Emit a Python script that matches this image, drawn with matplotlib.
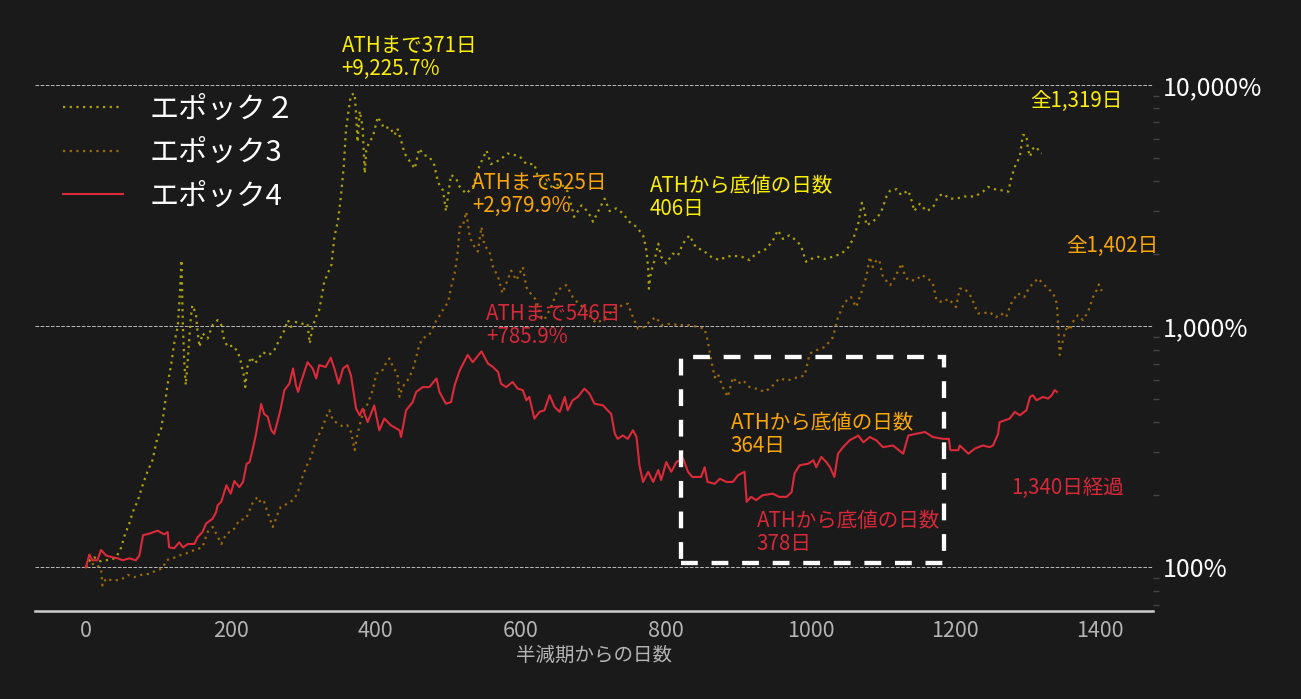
import matplotlib
matplotlib.use("Agg")
import matplotlib.pyplot as plt
from matplotlib.patches import Rectangle
from matplotlib.ticker import FixedLocator, FuncFormatter, NullFormatter, LogLocator

plt.rcParams['font.family'] = ['Noto Sans CJK JP', 'DejaVu Sans']

# エポック2 (days since halving, % of halving-day price)
e2_days = [0, 7, 12, 20, 28, 36, 42, 49, 53, 60, 65, 72, 79, 85, 92, 99, 104, 108, 113, 118,
           122, 127, 130, 132, 134, 136, 138, 141, 145, 147, 152, 154, 157, 161, 168, 175, 182, 187, 191, 196,
           203, 210, 214, 219, 220, 223, 228, 233, 237, 244, 253, 260, 267, 274, 279, 283, 290, 299, 306, 309,
           313, 318, 322, 325, 329, 334, 339, 343, 348, 352, 356, 359, 364, 366, 371, 373, 375, 378, 382, 385,
           387, 391, 396, 403, 408, 412, 419, 426, 430, 435, 440, 446, 454, 460, 467, 474, 481, 486, 493, 497,
           500, 504, 511, 516, 525, 534, 543, 553, 559, 571, 582, 592, 599, 608, 619, 624, 633, 644, 656, 665,
           674, 684, 693, 700, 709, 716, 723, 732, 741, 750, 760, 769, 773, 776, 777, 780, 785, 790, 794, 801,
           810, 817, 824, 833, 842, 852, 863, 874, 884, 893, 905, 916, 925, 939, 948, 955, 962, 971, 981, 987,
           994, 1001, 1010, 1020, 1031, 1043, 1052, 1059, 1066, 1071, 1075, 1077, 1086, 1093, 1098, 1105, 1110, 1119, 1125, 1135,
           1141, 1143, 1151, 1160, 1169, 1176, 1183, 1192, 1201, 1213, 1227, 1238, 1245, 1254, 1266, 1273, 1277, 1282, 1289, 1293,
           1298, 1300, 1303, 1307, 1312, 1316, 1319]
e2_pct = [100, 109, 110, 106, 107, 108, 110, 121, 134, 152, 170, 190, 222, 249, 278, 347, 376, 448, 577, 700,
          848, 1000, 1400, 1880, 1000, 700, 570, 745, 1090, 1220, 1128, 960, 820, 935, 888, 1010, 1060, 1010, 876, 820,
          832, 780, 709, 607, 559, 677, 745, 700, 722, 780, 760, 794, 876, 960, 1060, 993, 1041, 1023, 1023, 848,
          993, 1100, 1164, 1300, 1525, 1654, 1800, 2340, 2745, 3437, 4600, 6500, 8400, 9100, 9225.7, 7600, 5800, 7800, 6700, 4300,
          5350, 5800, 6080, 7380, 6930, 6600, 6700, 6200, 6600, 5900, 5200, 4880, 4500, 5450, 5120, 5050, 4650, 3950, 3650, 3000,
          3500, 4240, 4100, 3780, 3540, 3780, 4600, 5350, 4700, 4880, 5200, 5120, 5050, 4700, 4700, 4150, 3900, 3780, 3900, 3610,
          2840, 3170, 2980, 2710, 3080, 3380, 3000, 3080, 2940, 2710, 2580, 2380, 2120, 1760, 1430, 1680, 1880, 2200, 1940, 1820,
          2000, 1960, 2200, 2380, 2120, 2060, 1940, 1880, 1940, 1960, 1940, 1880, 2000, 2090, 2260, 2500, 2300, 2380, 2260, 2150,
          1850, 1900, 1940, 1900, 1940, 2000, 2120, 2300, 2670, 3250, 3000, 2620, 2710, 2840, 3000, 3450, 3650, 3700, 3500, 3650,
          3220, 3000, 3220, 3000, 3100, 3450, 3540, 3380, 3380, 3450, 3450, 3610, 3780, 3700, 3650, 3610, 4100, 4580, 5050, 6200,
          6200, 5450, 5050, 5450, 5550, 5250, 5200]

# エポック3
e3_days = [0, 12, 21, 23, 28, 37, 49, 58, 67, 76, 88, 97, 106, 111, 120, 129, 138, 150, 161, 168,
           175, 180, 187, 194, 203, 212, 221, 230, 237, 242, 246, 253, 258, 265, 269, 279, 286, 292, 299, 306,
           311, 316, 320, 325, 332, 336, 341, 348, 355, 361, 366, 371, 375, 382, 389, 396, 401, 408, 414, 419,
           424, 430, 433, 437, 444, 451, 456, 460, 465, 474, 484, 490, 495, 500, 504, 509, 513, 516, 520, 525,
           530, 534, 539, 541, 546, 550, 557, 562, 569, 575, 580, 587, 594, 603, 608, 615, 622, 626, 631, 635,
           642, 651, 663, 672, 679, 686, 695, 704, 713, 723, 732, 741, 748, 755, 762, 771, 780, 787, 794, 806,
           819, 833, 845, 854, 858, 863, 868, 872, 879, 886, 893, 900, 907, 916, 925, 937, 946, 957, 969, 981,
           992, 999, 1008, 1020, 1031, 1038, 1047, 1056, 1063, 1070, 1077, 1082, 1086, 1091, 1095, 1100, 1110, 1116, 1126, 1130,
           1135, 1146, 1153, 1162, 1169, 1174, 1183, 1190, 1197, 1201, 1206, 1213, 1222, 1231, 1238, 1247, 1256, 1263, 1270, 1277,
           1286, 1295, 1302, 1309, 1314, 1321, 1328, 1335, 1340, 1342, 1343, 1344, 1346, 1351, 1355, 1358, 1362, 1369, 1376, 1383,
           1390, 1395, 1398, 1402]
e3_pct = [100, 104, 99, 84, 90, 88, 89, 93, 91, 93, 94, 97, 99, 107, 109, 112, 114, 118, 121, 140,
          147, 138, 125, 138, 142, 157, 159, 184, 196, 184, 187, 162, 147, 167, 178, 184, 190, 202, 237, 269,
          287, 326, 347, 370, 421, 448, 407, 395, 383, 388, 364, 306, 358, 433, 477, 543, 636, 645, 700, 735,
          677, 636, 509, 559, 596, 656, 745, 833, 890, 920, 1060, 1128, 1200, 1255, 1450, 1650, 2000, 2580, 2580, 2979.9,
          2340, 2200, 2070, 2040, 2580, 2160, 2040, 1760, 1600, 1370, 1500, 1700, 1550, 1760, 1450, 1350, 1280, 1130, 1060, 1090,
          1200, 1410, 1480, 1320, 1250, 1200, 1110, 1030, 1060, 1130, 1200, 1220, 1240, 1090, 976, 993, 1060, 1090, 1010, 1023,
          1010, 1010, 993, 976, 876, 722, 613, 636, 559, 509, 613, 577, 596, 559, 551, 534, 559, 607, 596, 613,
          624, 770, 794, 820, 900, 1090, 1255, 1320, 1200, 1370, 1600, 1940, 1760, 1880, 1880, 1600, 1480, 1580, 1820, 1630,
          1550, 1550, 1630, 1580, 1500, 1280, 1255, 1300, 1240, 1200, 1430, 1430, 1320, 1130, 1130, 1145, 1090, 1130, 1090, 1240,
          1370, 1320, 1450, 1520, 1580, 1500, 1430, 1370, 1240, 1000, 840, 760, 820, 935, 1010, 960, 1040, 1110, 1060, 1145,
          1320, 1410, 1490, 1400]

# エポック4
e4_days = [0, 5, 9, 16, 21, 28, 37, 44, 51, 60, 69, 74, 79, 88, 99, 108, 113, 115, 122, 129,
           134, 141, 150, 154, 161, 166, 175, 180, 182, 187, 194, 200, 205, 212, 217, 222, 226, 231, 235, 242,
           246, 251, 256, 260, 265, 269, 274, 281, 286, 290, 293, 297, 306, 313, 318, 322, 331, 338, 343, 349,
           355, 361, 366, 373, 378, 382, 389, 398, 405, 412, 421, 433, 435, 442, 451, 456, 465, 474, 484, 488,
           497, 504, 509, 516, 527, 534, 546, 555, 562, 569, 573, 580, 589, 596, 603, 608, 612, 619, 626, 633,
           640, 647, 654, 661, 665, 672, 679, 688, 695, 702, 714, 720, 725, 730, 734, 741, 748, 755, 760, 764,
           769, 776, 783, 790, 794, 801, 808, 815, 824, 831, 837, 849, 854, 858, 868, 875, 884, 893, 900, 909,
           912, 918, 925, 934, 948, 957, 967, 974, 978, 985, 997, 1004, 1008, 1015, 1022, 1027, 1033, 1038, 1045, 1054,
           1066, 1073, 1082, 1091, 1100, 1114, 1128, 1135, 1146, 1158, 1169, 1183, 1191, 1193, 1204, 1206, 1218, 1227, 1238, 1247,
           1252, 1259, 1261, 1275, 1282, 1289, 1298, 1303, 1307, 1312, 1321, 1328, 1333, 1337, 1340]
e4_pct = [100, 113, 107, 107, 118, 112, 110, 109, 107, 109, 107, 112, 136, 138, 142, 137, 140, 121, 120, 127,
          121, 125, 125, 133, 140, 152, 159, 170, 181, 187, 219, 202, 228, 215, 226, 269, 273, 315, 358, 476,
          433, 421, 370, 358, 407, 455, 543, 578, 668, 569, 534, 587, 709, 668, 607, 689, 677, 740, 668, 577,
          668, 689, 624, 455, 427, 455, 400, 469, 370, 414, 388, 370, 347, 448, 484, 534, 559, 559, 607, 534,
          477, 484, 569, 656, 760, 709, 785.9, 700, 677, 645, 577, 559, 587, 551, 543, 493, 509, 414, 441, 448,
          517, 462, 441, 509, 448, 493, 509, 551, 525, 477, 469, 448, 433, 358, 341, 352, 341, 370, 347, 265,
          226, 249, 226, 253, 230, 273, 249, 273, 284, 249, 237, 237, 260, 226, 222, 233, 226, 226, 241, 249,
          187, 196, 190, 199, 202, 196, 196, 205, 245, 265, 269, 278, 260, 287, 273, 260, 237, 296, 315, 336,
          352, 330, 347, 336, 315, 320, 296, 352, 358, 364, 347, 341, 341, 306, 306, 320, 296, 311, 320, 315,
          320, 358, 400, 414, 441, 427, 448, 509, 517, 493, 509, 501, 517, 543, 534]

x_ticks = [0, 200, 400, 600, 800, 1000, 1200, 1400]
y_ticks = [100, 1000, 10000]

# highlighted bear-market window (days, %)
box_days = (822, 1184)
box_pct = (104.6, 746)

bg = '#1a1a1a'
c_e2 = '#aaa200'
c_e3 = '#9a6a08'
c_e4 = '#dc2a3a'
t_yellow = '#fff000'
t_orange = '#ffa600'
t_red = '#d6293a'

fig = plt.figure(figsize=(13.01, 6.99), dpi=100, facecolor=bg)
ax = fig.add_axes([0.0269, 0.1252, 0.8590, 0.7781], facecolor=bg)

ax.plot(e2_days, e2_pct, color=c_e2, lw=1.6, ls=(0, (1, 2)), label='エポック２')
ax.plot(e3_days, e3_pct, color=c_e3, lw=1.6, ls=(0, (1, 2)), label='エポック3')
ax.plot(e4_days, e4_pct, color=c_e4, lw=1.5, label='エポック4')

ax.set_yscale('log')
ax.set_xlim(-70.1, 1472.1)
ax.set_ylim(65.6, 11810)

# axes styling
for s in ['left', 'top', 'right']:
    ax.spines[s].set_visible(False)
ax.spines['bottom'].set_color('#cccccc')
ax.spines['bottom'].set_linewidth(1.8)

ax.set_xticks(x_ticks)
ax.tick_params(axis='x', length=0, pad=6, labelsize=15.5, labelcolor='#b4b4b4')
ax.set_xlabel('半減期からの日数', fontsize=14, color='#b4b4b4', labelpad=2)

ax.yaxis.tick_right()
ax.yaxis.set_major_locator(FixedLocator(y_ticks))
ax.yaxis.set_major_formatter(FuncFormatter(lambda v, p: f'{v:,.0f}%'))
ax.yaxis.set_minor_locator(LogLocator(base=10, subs=range(2, 10)))
ax.yaxis.set_minor_formatter(NullFormatter())
ax.tick_params(axis='y', which='major', length=0, pad=7, labelsize=18, labelcolor='white')
ax.tick_params(axis='y', which='minor', length=4, width=1, color='#444444')
ax.yaxis.grid(True, which='major', ls='--', color='#bbbbbb', lw=0.7)

# window box
ax.add_patch(Rectangle((box_days[0], box_pct[0]), box_days[1] - box_days[0], box_pct[1] - box_pct[0],
                       fill=False, edgecolor='white', lw=3.1, ls=(0, (3.9, 3.2)), zorder=5))

# annotations
fs = 14.8
ax.text(353, 13000, 'ATHまで371日\n+9,225.7%', color=t_yellow, fontsize=fs, va='center', linespacing=1.05)
ax.text(533, 3530, 'ATHまで525日\n+2,979.9%', color=t_orange, fontsize=fs, va='center', linespacing=1.05)
ax.text(778, 3410, 'ATHから底値の日数\n406日', color=t_yellow, fontsize=fs, va='center', linespacing=1.05)
ax.text(1303, 8590, '全1,319日', color=t_yellow, fontsize=fs, va='center')
ax.text(1353, 2148, '全1,402日', color=t_orange, fontsize=fs, va='center')
ax.text(552, 1005, 'ATHまで546日\n+785.9%', color=t_red, fontsize=fs, va='center', linespacing=1.05)
ax.text(890, 355, 'ATHから底値の日数\n364日', color=t_orange, fontsize=fs, va='center', linespacing=1.05)
ax.text(926, 140, 'ATHから底値の日数\n378日', color=t_red, fontsize=fs, va='center', linespacing=1.05)
ax.text(1277, 213, '1,340日経過', color=t_red, fontsize=fs, va='center')

leg = ax.legend(loc='upper left', bbox_to_anchor=(0.0484, 0.8647), bbox_transform=fig.transFigure,
                frameon=False, fontsize=21, handlelength=2.06, handletextpad=0.92,
                borderpad=0, borderaxespad=0, labelspacing=0.46)
for t in leg.get_texts():
    t.set_color('white')

fig.savefig('out.png', dpi=100, facecolor=bg)
